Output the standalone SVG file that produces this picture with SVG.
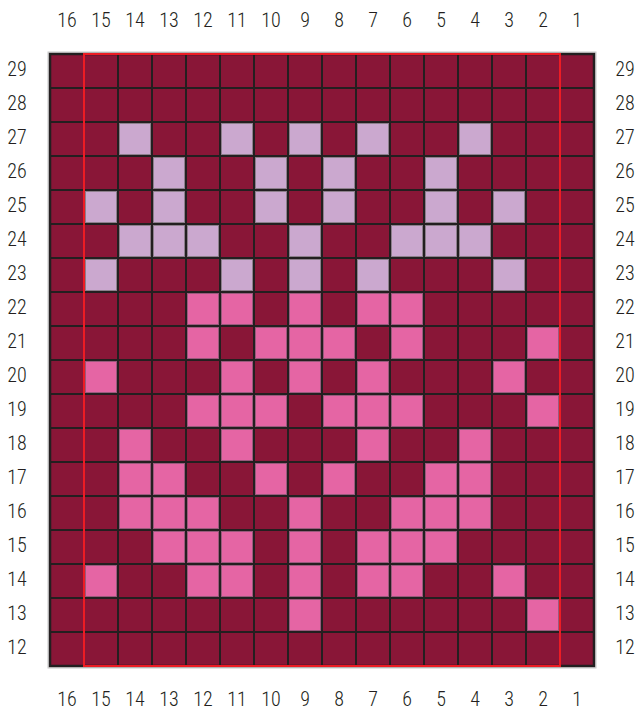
<svg xmlns="http://www.w3.org/2000/svg" width="642" height="715" viewBox="0 0 642 715">
<style>
.bg{fill:#ffffff}
.lbl{font-family:"Liberation Sans Narrow","Roboto Condensed","DejaVu Sans Condensed","Liberation Sans",sans-serif;font-size:20px;font-weight:300;fill:#231f20;text-anchor:middle}
.lt{fill:#cba8cf;stroke:#8d7f8c;stroke-width:1}
.pk{fill:#e565a4;stroke:#9a5a7c;stroke-width:1}
.grid{fill:none;stroke:#231f20;stroke-width:2}
.frame{fill:none;stroke:#231f20;stroke-width:2.5}
.shadow{fill:none;stroke:#c8c8c8;stroke-width:1}
.red{fill:none;stroke:#ec1c24;stroke-width:2}
</style>
<defs>
<rect id="lc" class="lt" x="1.5" y="1.5" width="31" height="31"/>
<rect id="pc" class="pk" x="1.5" y="1.5" width="31" height="31"/>
</defs>
<rect class="bg" x="0" y="0" width="642" height="715"/>
<g id="chart">
<rect x="50" y="54" width="544" height="612" fill="#891637"/>
<g id="light">
<use href="#lc" x="118" y="122"/><use href="#lc" x="220" y="122"/><use href="#lc" x="288" y="122"/><use href="#lc" x="356" y="122"/><use href="#lc" x="458" y="122"/>
<use href="#lc" x="152" y="156"/><use href="#lc" x="254" y="156"/><use href="#lc" x="322" y="156"/><use href="#lc" x="424" y="156"/>
<use href="#lc" x="84" y="190"/><use href="#lc" x="152" y="190"/><use href="#lc" x="254" y="190"/><use href="#lc" x="322" y="190"/><use href="#lc" x="424" y="190"/><use href="#lc" x="492" y="190"/>
<use href="#lc" x="118" y="224"/><use href="#lc" x="152" y="224"/><use href="#lc" x="186" y="224"/><use href="#lc" x="288" y="224"/><use href="#lc" x="390" y="224"/><use href="#lc" x="424" y="224"/><use href="#lc" x="458" y="224"/>
<use href="#lc" x="84" y="258"/><use href="#lc" x="220" y="258"/><use href="#lc" x="288" y="258"/><use href="#lc" x="356" y="258"/><use href="#lc" x="492" y="258"/>
</g>
<g id="pink">
<use href="#pc" x="186" y="292"/><use href="#pc" x="220" y="292"/><use href="#pc" x="288" y="292"/><use href="#pc" x="356" y="292"/><use href="#pc" x="390" y="292"/>
<use href="#pc" x="186" y="326"/><use href="#pc" x="254" y="326"/><use href="#pc" x="288" y="326"/><use href="#pc" x="322" y="326"/><use href="#pc" x="390" y="326"/><use href="#pc" x="526" y="326"/>
<use href="#pc" x="84" y="360"/><use href="#pc" x="220" y="360"/><use href="#pc" x="288" y="360"/><use href="#pc" x="356" y="360"/><use href="#pc" x="492" y="360"/>
<use href="#pc" x="186" y="394"/><use href="#pc" x="220" y="394"/><use href="#pc" x="254" y="394"/><use href="#pc" x="322" y="394"/><use href="#pc" x="356" y="394"/><use href="#pc" x="390" y="394"/><use href="#pc" x="526" y="394"/>
<use href="#pc" x="118" y="428"/><use href="#pc" x="220" y="428"/><use href="#pc" x="356" y="428"/><use href="#pc" x="458" y="428"/>
<use href="#pc" x="118" y="462"/><use href="#pc" x="152" y="462"/><use href="#pc" x="254" y="462"/><use href="#pc" x="322" y="462"/><use href="#pc" x="424" y="462"/><use href="#pc" x="458" y="462"/>
<use href="#pc" x="118" y="496"/><use href="#pc" x="152" y="496"/><use href="#pc" x="186" y="496"/><use href="#pc" x="288" y="496"/><use href="#pc" x="390" y="496"/><use href="#pc" x="424" y="496"/><use href="#pc" x="458" y="496"/>
<use href="#pc" x="152" y="530"/><use href="#pc" x="186" y="530"/><use href="#pc" x="220" y="530"/><use href="#pc" x="288" y="530"/><use href="#pc" x="356" y="530"/><use href="#pc" x="390" y="530"/><use href="#pc" x="424" y="530"/>
<use href="#pc" x="84" y="564"/><use href="#pc" x="186" y="564"/><use href="#pc" x="220" y="564"/><use href="#pc" x="288" y="564"/><use href="#pc" x="356" y="564"/><use href="#pc" x="390" y="564"/><use href="#pc" x="492" y="564"/>
<use href="#pc" x="288" y="598"/><use href="#pc" x="526" y="598"/>
</g>
<path class="grid" d="M84 54V666M118 54V666M152 54V666M186 54V666M220 54V666M254 54V666M288 54V666M322 54V666M356 54V666M390 54V666M424 54V666M458 54V666M492 54V666M526 54V666M560 54V666M50 88H594M50 122H594M50 156H594M50 190H594M50 224H594M50 258H594M50 292H594M50 326H594M50 360H594M50 394H594M50 428H594M50 462H594M50 496H594M50 530H594M50 564H594M50 598H594M50 632H594"/>
<rect class="shadow" x="48" y="52" width="548" height="616"/>
<rect class="frame" x="50" y="54" width="544" height="612"/>
<rect class="red" x="84" y="54" width="476" height="612"/>
</g>
<g id="top-labels" class="lbl">
<text x="67" y="27">16</text><text x="101" y="27">15</text><text x="135" y="27">14</text><text x="169" y="27">13</text><text x="203" y="27">12</text><text x="237" y="27">11</text><text x="271" y="27">10</text><text x="305" y="27">9</text><text x="339" y="27">8</text><text x="373" y="27">7</text><text x="407" y="27">6</text><text x="441" y="27">5</text><text x="475" y="27">4</text><text x="509" y="27">3</text><text x="543" y="27">2</text><text x="577" y="27">1</text>
</g>
<g id="bottom-labels" class="lbl">
<text x="67" y="706">16</text><text x="101" y="706">15</text><text x="135" y="706">14</text><text x="169" y="706">13</text><text x="203" y="706">12</text><text x="237" y="706">11</text><text x="271" y="706">10</text><text x="305" y="706">9</text><text x="339" y="706">8</text><text x="373" y="706">7</text><text x="407" y="706">6</text><text x="441" y="706">5</text><text x="475" y="706">4</text><text x="509" y="706">3</text><text x="543" y="706">2</text><text x="577" y="706">1</text>
</g>
<g id="left-labels" class="lbl">
<text x="17" y="76">29</text><text x="17" y="110">28</text><text x="17" y="144">27</text><text x="17" y="178">26</text><text x="17" y="212">25</text><text x="17" y="246">24</text><text x="17" y="280">23</text><text x="17" y="314">22</text><text x="17" y="348">21</text><text x="17" y="382">20</text><text x="17" y="416">19</text><text x="17" y="450">18</text><text x="17" y="484">17</text><text x="17" y="518">16</text><text x="17" y="552">15</text><text x="17" y="586">14</text><text x="17" y="620">13</text><text x="17" y="654">12</text>
</g>
<g id="right-labels" class="lbl">
<text x="625" y="76">29</text><text x="625" y="110">28</text><text x="625" y="144">27</text><text x="625" y="178">26</text><text x="625" y="212">25</text><text x="625" y="246">24</text><text x="625" y="280">23</text><text x="625" y="314">22</text><text x="625" y="348">21</text><text x="625" y="382">20</text><text x="625" y="416">19</text><text x="625" y="450">18</text><text x="625" y="484">17</text><text x="625" y="518">16</text><text x="625" y="552">15</text><text x="625" y="586">14</text><text x="625" y="620">13</text><text x="625" y="654">12</text>
</g>
</svg>
